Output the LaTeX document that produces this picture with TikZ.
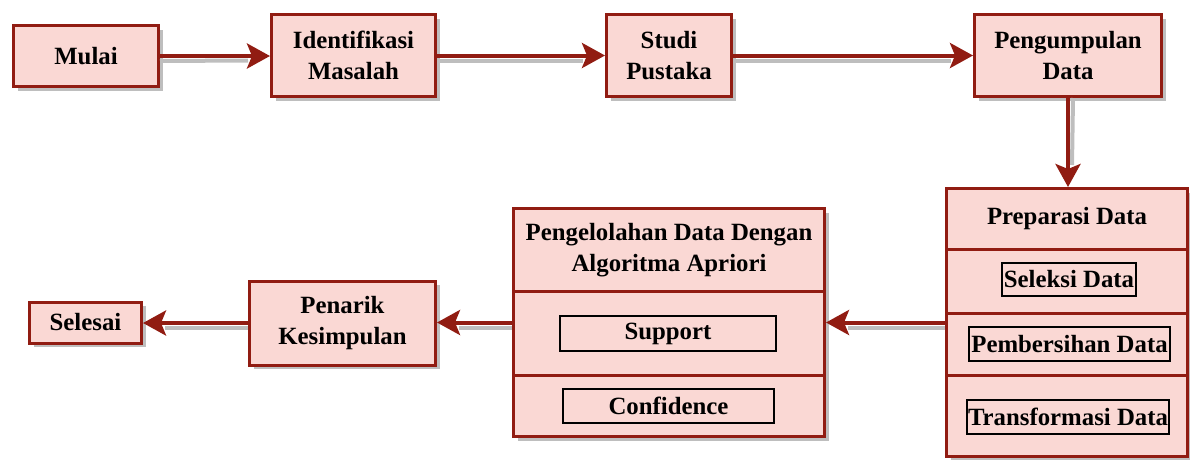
\documentclass[tikz,border=0pt]{standalone}
\usepackage{fontspec}
\setmainfont{Liberation Serif}
\usetikzlibrary{arrows.meta,shadows}
\definecolor{bred}{RGB}{145,28,18}
\definecolor{bfill}{RGB}{250,216,212}
\definecolor{shad}{RGB}{190,190,190}
\begin{document}
\begin{tikzpicture}[x=1pt,y=-1pt,
  box/.style={draw=bred,fill=bfill,line width=3pt,inner sep=0pt,align=center,
    font=\fontsize{24.8}{31}\selectfont\bfseries,
    drop shadow={shadow xshift=4pt,shadow yshift=-4pt,fill=shad,opacity=1}},
  inbox/.style={draw=black,line width=1.5pt,inner sep=0pt,align=center,
    font=\fontsize{24.8}{31}\selectfont\bfseries},
  lbl/.style={inner sep=0pt,align=center,font=\fontsize{24.8}{31}\selectfont\bfseries},
  divider/.style={draw=bred,line width=3pt},
  arr/.style={draw=bred,line width=4pt,-{Stealth[length=23pt,width=25pt,inset=5pt]}},
  arrshadow/.style={draw=shad,line width=4pt}]
\useasboundingbox (0,0) rectangle (1190,459);
% top row
\node[box,minimum width=145,minimum height=61] (mulai) at (86,56) {Mulai};
\node[box,minimum width=164,minimum height=82] (ident) at (353.5,55.5) {Identifikasi\\Masalah};
\node[box,minimum width=125,minimum height=82] (studi) at (669,55.5) {Studi\\Pustaka};
\node[box,minimum width=187,minimum height=82] (kumpul) at (1068,55.5) {Pengumpulan\\Data};
% preparasi
\node[box,minimum width=241,minimum height=268] (prep) at (1067,322.5) {};
\coordinate (p1) at (946,249);
\coordinate (p2) at (946,313);
\coordinate (p3) at (946,375);
\draw[divider] (p1) -- (p1 -| prep.east);
\draw[divider] (p2) -- (p2 -| prep.east);
\draw[divider] (p3) -- (p3 -| prep.east);
\node[lbl] (preptitle) at (1067,219) {Preparasi Data};
\node[inbox,minimum width=134,minimum height=33] (sel) at (1069,279.5) {Seleksi Data};
\node[inbox,minimum width=201,minimum height=34] (bersih) at (1069.5,344) {Pembersihan Data};
\node[inbox,minimum width=202,minimum height=34] (trans) at (1068,417) {Transformasi Data};
% pengelolahan
\node[box,minimum width=311,minimum height=228] (proc) at (669,322.5) {};
\coordinate (q1) at (513,291);
\coordinate (q2) at (513,375);
\draw[divider] (q1) -- (q1 -| proc.east);
\draw[divider] (q2) -- (q2 -| proc.east);
\node[lbl] (proctitle) at (669,250) {Pengelolahan Data Dengan\\Algoritma Apriori};
\node[inbox,minimum width=216,minimum height=35] (sup) at (668,333.5) {Support};
\node[inbox,minimum width=211,minimum height=34] (conf) at (668.5,406) {Confidence};
% bottom row
\node[box,minimum width=186,minimum height=84] (tarik) at (342.5,323) {Penarik\\Kesimpulan};
\node[box,minimum width=112,minimum height=41] (selesai) at (85.5,322.5) {Selesai};
% arrow shadows
\draw[arrshadow] ([shift={(0,5)}]mulai.east) -- ([shift={(-22,5)}]ident.west);
\draw[arrshadow] ([shift={(0,5)}]ident.east) -- ([shift={(-22,5)}]studi.west);
\draw[arrshadow] ([shift={(0,5)}]studi.east) -- ([shift={(-22,5)}]kumpul.west);
\draw[arrshadow] ([shift={(5,0)}]kumpul.south) -- ([shift={(5,-22)}]prep.north);
\draw[arrshadow] ([shift={(0,5)}]prep.west) -- ([shift={(22,5)}]prep.west -| proc.east);
\draw[arrshadow] ([shift={(0,5)}]proc.west) -- ([shift={(22,5)}]proc.west -| tarik.east);
\draw[arrshadow] ([shift={(0,5)}]tarik.west) -- ([shift={(22,5)}]tarik.west -| selesai.east);
% arrows
\draw[arr] (mulai.east) -- (mulai.east -| ident.west);
\draw[arr] (ident.east) -- (studi.west);
\draw[arr] (studi.east) -- (kumpul.west);
\draw[arr] (kumpul.south) -- (kumpul.south |- prep.north);
\draw[arr] (prep.west) -- (prep.west -| proc.east);
\draw[arr] (proc.west) -- (proc.west -| tarik.east);
\draw[arr] (tarik.west) -- (tarik.west -| selesai.east);
\end{tikzpicture}
\end{document}
